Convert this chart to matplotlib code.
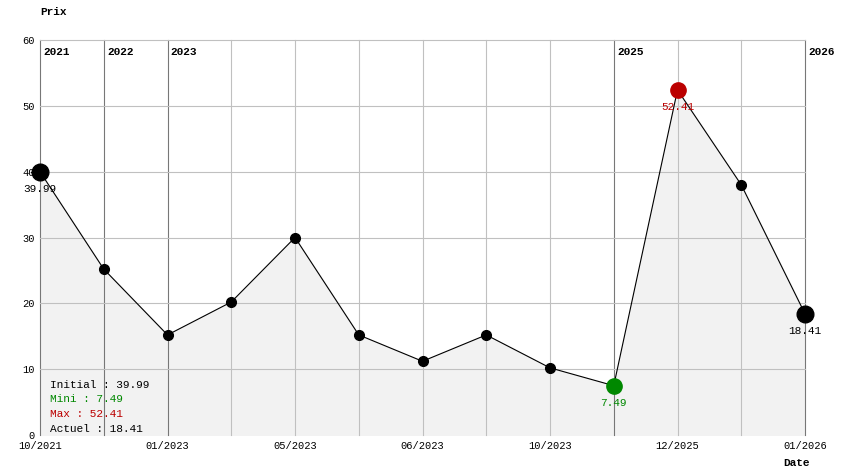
import matplotlib
matplotlib.use("Agg")
import matplotlib.pyplot as plt

values = [39.99, 25.2, 15.2, 20.2, 30.0, 15.2, 11.2, 15.2, 10.2, 7.49, 52.41, 38.0, 18.41]
xlabels = {0: "10/2021", 2: "01/2023", 4: "05/2023", 6: "06/2023", 8: "10/2023", 10: "12/2025", 12: "01/2026"}
years = {0: "2021", 1: "2022", 2: "2023", 9: "2025", 12: "2026"}
mono = "Liberation Mono"

fig = plt.figure(figsize=(8.44, 4.74), dpi=100)
ax = fig.add_axes([40/844, 1-435/474, 765/844, 395/474])
x = list(range(len(values)))
ax.set_xlim(0, 12); ax.set_ylim(0, 60)
ax.fill_between(x, values, 0, color="#f2f2f2", zorder=0)
for i in x:
    ax.axvline(i, color="#777777" if i in years else "#c0c0c0", lw=0.8, zorder=1, clip_on=False)
for yv in range(10, 61, 10):
    ax.axhline(yv, color="#c0c0c0", lw=0.8, zorder=1, clip_on=False)
ax.plot(x, values, color="black", lw=0.8, zorder=2)
imin = values.index(min(values)); imax = values.index(max(values))
for i, v in enumerate(values):
    if i == imin: c, s = "#008800", 11
    elif i == imax: c, s = "#bb0000", 11
    elif i in (0, len(values)-1): c, s = "black", 12
    else: c, s = "black", 7
    ax.plot(i, v, "o", color=c, ms=s, zorder=3, clip_on=False)
for i, c in [(0, "black"), (imin, "#008800"), (imax, "#bb0000"), (12, "black")]:
    ax.text(i, values[i]-1.8, f"{values[i]:.2f}", ha="center", va="top", fontsize=8, family=mono, color=c, zorder=4)
for i, t in years.items():
    ax.text(i+0.05, 59, t, ha="left", va="top", fontsize=8, family=mono, weight="bold")
ax.set_xticks(list(xlabels.keys()))
ax.set_xticklabels(list(xlabels.values()), fontsize=7.5, family=mono)
ax.set_yticks(range(0, 61, 10))
ax.set_yticklabels([str(v) for v in range(0, 61, 10)], fontsize=7.5, family=mono)
ax.tick_params(length=0, pad=4)
for s in ax.spines.values(): s.set_visible(False)
leg = [("Initial : 39.99", "black"), ("Mini : 7.49", "#008800"), ("Max : 52.41", "#bb0000"), ("Actuel : 18.41", "black")]
for k, (t, c) in enumerate(leg):
    fig.text(50/844, 1-(385+k*14.5)/474, t, fontsize=8, family=mono, color=c, va="center")
fig.text(40/844, 1-12/474, "Prix", fontsize=8, family=mono, weight="bold", va="center")
fig.text(783/844, 1-463/474, "Date", fontsize=8, family=mono, weight="bold", va="center")
fig.savefig("out.png", dpi=100, facecolor="white")
